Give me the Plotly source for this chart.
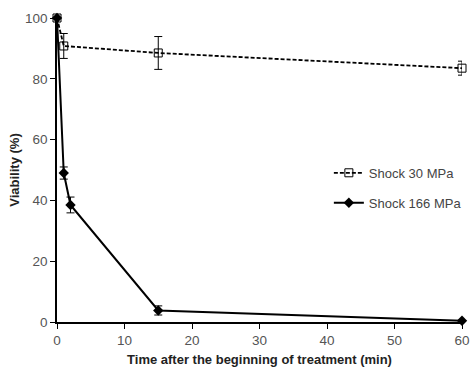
import plotly.graph_objects as go

time_30 = [0, 1, 15, 60]
viab_30 = [100, 90.8, 88.5, 83.5]
err_30 = [0, 4.1, 5.4, 2.3]

time_166 = [0, 1, 2, 15, 60]
viab_166 = [100, 49, 38.5, 3.8, 0.4]
err_166 = [0, 2.0, 2.6, 1.5, 0]

x_ticks = [0, 10, 20, 30, 40, 50, 60]
y_ticks = [0, 20, 40, 60, 80, 100]

fig = go.Figure()
fig.add_trace(go.Scatter(
    x=time_30, y=viab_30, name="Shock 30 MPa", mode="lines+markers",
    legendgroup="a",
    line=dict(color="black", width=1.8, dash="4px,2px"),
    marker=dict(symbol="square-open", size=8, color="black", line=dict(width=1)),
    error_y=dict(type="data", array=err_30, visible=True, color="black", thickness=1, width=4),
    cliponaxis=False,
))
fig.add_trace(go.Scatter(
    x=time_166, y=viab_166, name="Shock 166 MPa", mode="lines+markers",
    legendgroup="b",
    line=dict(color="black", width=2),
    marker=dict(symbol="diamond", size=8, color="black"),
    error_y=dict(type="data", array=err_166, visible=True, color="black", thickness=1, width=4),
    cliponaxis=False,
))

fig.update_layout(
    width=475, height=367,
    margin=dict(l=57, r=8, t=18, b=45),
    paper_bgcolor="white", plot_bgcolor="white",
    font=dict(family="Liberation Sans, Arial, sans-serif", color="#333", size=12),
    legend=dict(x=1.012, y=0.54, xanchor="right", yanchor="top",
                bgcolor="rgba(0,0,0,0)", tracegroupgap=10,
                font=dict(size=13, color="#444"), itemwidth=30),
    xaxis=dict(range=[0, 60], tickvals=x_ticks, showgrid=False, zeroline=False,
               automargin=False,
               showline=True, linecolor="black", linewidth=1.5,
               ticks="outside", ticklen=5, tickcolor="black",
               tickfont=dict(size=13.5, color="#555"),
               title=dict(text="<b>Time after the beginning of treatment (min)</b>",
                          font=dict(size=13, color="#222"), standoff=8)),
    yaxis=dict(range=[0, 100], tickvals=y_ticks, showgrid=False, zeroline=False,
               automargin=False,
               showline=True, linecolor="black", linewidth=1.5,
               ticks="outside", ticklen=5, tickcolor="black",
               tickfont=dict(size=13.5, color="#555"),
               title=dict(text="<b>Viability (%)</b>",
                          font=dict(size=13, color="#222"), standoff=2)),
)

fig.write_html("out.html", config={"displayModeBar": False},
               post_script="document.body.style.margin='0';")
